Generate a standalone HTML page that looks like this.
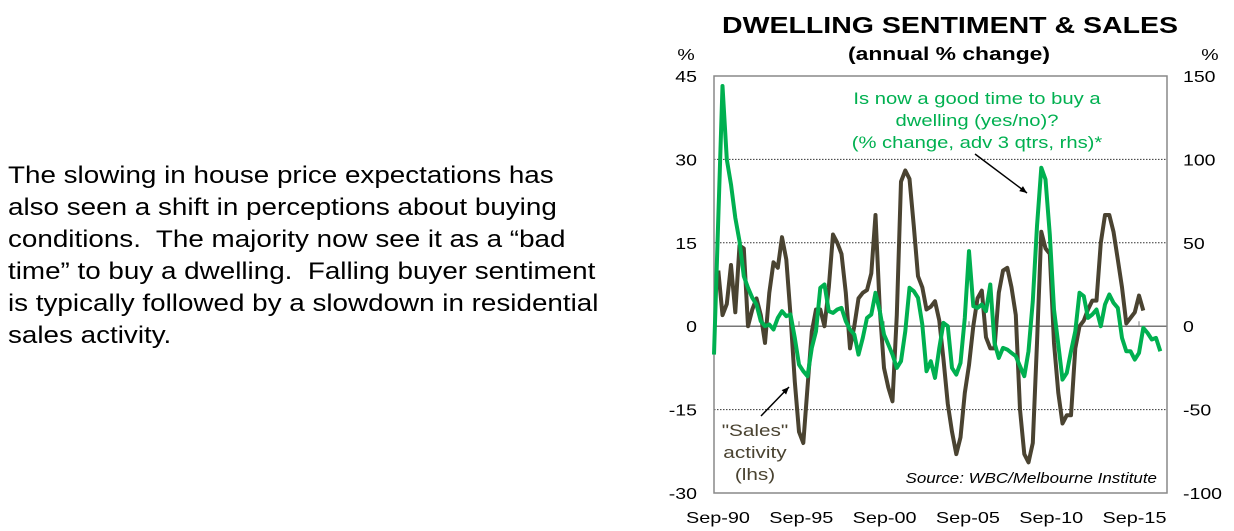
<!DOCTYPE html>
<html><head><meta charset="utf-8"><style>
body{margin:0;width:1234px;height:531px;background:#fff;overflow:hidden;font-family:"Liberation Sans",sans-serif;}
#txt{position:absolute;left:8px;top:160px;font-size:24.5px;line-height:32px;color:#000;white-space:nowrap;transform:scaleX(1.135);transform-origin:0 0;}
svg{position:absolute;left:0;top:0;}
</style></head><body>
<div id="txt">The slowing in house price expectations has<br>also seen a shift in perceptions about buying<br>conditions.&nbsp; The majority now see it as a “bad<br>time” to buy a dwelling.&nbsp; Falling buyer sentiment<br>is typically followed by a slowdown in residential<br>sales activity.</div>
<svg id="c" width="1234" height="531" font-family="Liberation Sans, sans-serif"></svg>
<script>
const sales=[null,10,2,4,11,2.5,14.5,14,0,3,5,2,-3,6,11.5,10.5,16,12,2,-10,-19,-21,-11,-1,3,3,0,7,16.5,15,13,6,-4,0,5,6,6.5,9.5,20,3,-7.5,-11,-13.5,2,26,28,26.5,18,9,7,3,3.5,4.5,1,-6,-14,-19,-23,-20,-12,-7,0,5,6.4,-2,-4,-4,6,10,10.5,7,2,-15,-23,-24.5,-21,-3,17,14,13,-3,-12,-17.5,-16,-16,-4,0,1,3,4.6,4.6,15,20,20,17,12,7,0.5,1.5,2.5,5.5,2.8];
const sentiment=[-17,65,144,100,85,65,51,30,23,17,13,3,0,1,-2,5,9,6,7,-7,-23,-27,-30,-13,-3,23,25,9,8,10,11,3,-2,-5,-17,-7,5,7,20,9,-5,-11,-17,-25,-21,-3,23,21,17,1,-27,-21,-31,-13,2,0,-25,-29,-22,5,45,12,11,13,9,25,-10,-19,-13,-14,-16,-18,-24,-30,-15,15,60,95,88,55,10,-11,-32,-28,-15,-3,20,18,5,7,10,0,13,19,14,11,-7,-15,-15,-20,-16,-1,-4,-8,-7,-15];
const leftTicks=[45,30,15,0,-15,-30];
const rightTicks=[150,100,50,0,-50,-100];
const xLabels=["Sep-90","Sep-95","Sep-00","Sep-05","Sep-10","Sep-15"];
const L=714,R=1167,T=76,B=493;
const yL=v=>T+(45-v)/75*(B-T);
const yR=v=>T+(150-v)/250*(B-T);
const xq=q=>L+q*4.25;
const svg=document.getElementById('c');const NS='http://www.w3.org/2000/svg';
function mk(t,a,p){const e=document.createElementNS(NS,t);for(const k in a)e.setAttribute(k,a[k]);(p||svg).appendChild(e);return e;}
function sx(t,x,s){t.setAttribute('transform',`translate(${x},0) scale(${s},1) translate(${-x},0)`);}
leftTicks.forEach(v=>{const y=yL(v);
 if(v!==45&&v!==-30){const g=mk('line',{x1:L,x2:R,y1:y,y2:y,stroke:v===0?'#777':'#333','stroke-width':v===0?1.5:1,'stroke-dasharray':v===0?'':'1.5,1.5'});
 
 }
 const t=mk('text',{x:697,y:y+6,'text-anchor':'end','font-size':16});t.textContent=v;sx(t,697,1.22);
 
 });
rightTicks.forEach(v=>{const t=mk('text',{x:1183,y:yR(v)+6,'font-size':16});t.textContent=v;sx(t,1183,1.22);
 
 });
xLabels.forEach((s,i)=>{const x=xq(i*20);
 const tk=mk('line',{x1:x,x2:x,y1:yL(0)-5,y2:yL(0),stroke:'#777'});
 
 
 const lx=718+i*83.3;
 const t=mk('text',{x:lx,y:523,'text-anchor':'middle','font-size':16});t.textContent=s;sx(t,lx,1.24);
 
 });
const fr=mk('rect',{x:L,y:T,width:R-L,height:B-T,fill:'none',stroke:'#888','stroke-width':1.5});


function path(arr,yf,col,name){let d='';arr.forEach((v,i)=>{if(v===null)return;d+=(d?'L':'M')+xq(i).toFixed(1)+','+yf(v).toFixed(1);});
 const p=mk('path',{d:d,fill:'none',stroke:col,'stroke-width':4,'stroke-linejoin':'round'});
 
 }
path(sales,yL,'#4a4331','sales-line');
path(sentiment,yR,'#00b050','sentiment-line');
function txt(s,a,name,sc){const t=mk('text',a);t.textContent=s;if(sc)sx(t,a.x,sc);
 
 return t;}
txt('DWELLING SENTIMENT & SALES',{x:950,y:33,'text-anchor':'middle','font-size':23,'font-weight':'bold',textLength:456,lengthAdjust:'spacingAndGlyphs'},'chart-title');
txt('(annual % change)',{x:949,y:60,'text-anchor':'middle','font-size':18,'font-weight':'bold',textLength:202,lengthAdjust:'spacingAndGlyphs'},'chart-subtitle');
txt('%',{x:686,y:60,'text-anchor':'middle','font-size':16},'left-axis-unit',1.22);
txt('%',{x:1210,y:60,'text-anchor':'middle','font-size':16},'right-axis-unit',1.22);
['Is now a good time to buy a','dwelling (yes/no)?','(% change, adv 3 qtrs, rhs)*'].forEach((s,i)=>txt(s,{x:977,y:104+i*22,'text-anchor':'middle','font-size':17,fill:'#00b050'},'sentiment-annotation',1.19));
['"Sales"','activity','(lhs)'].forEach((s,i)=>txt(s,{x:755,y:436+i*22,'text-anchor':'middle','font-size':17,fill:'#4a4331'},'sales-annotation',1.22));
txt('Source: WBC/Melbourne Institute',{x:1157,y:483,'text-anchor':'end','font-size':15,'font-style':'italic'},'source-note',1.13);
function arrow(x1,y1,x2,y2,name){const a=mk('line',{x1,y1,x2,y2,stroke:'#000','stroke-width':1.5});
 
 
 const ang=Math.atan2(y2-y1,x2-x1),s=8;
 const h=mk('polygon',{points:`${x2},${y2} ${x2-s*Math.cos(ang-0.4)},${y2-s*Math.sin(ang-0.4)} ${x2-s*Math.cos(ang+0.4)},${y2-s*Math.sin(ang+0.4)}`,fill:'#000'});
 
 }
arrow(975,154,1027,193,'sentiment-arrow');
arrow(761,416,789,387,'sales-arrow');
</script>
</body></html>
